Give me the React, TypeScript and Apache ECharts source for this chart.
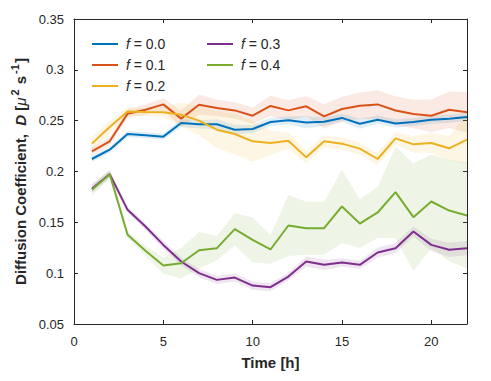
import React, { useEffect, useRef } from "react";
import * as echarts from "echarts";

const hours = [1, 2, 3, 4, 5, 6, 7, 8, 9, 10, 11, 12, 13, 14, 15, 16, 17, 18, 19, 20, 21, 22];
const seriesNames = ["f = 0.0", "f = 0.1", "f = 0.2", "f = 0.3", "f = 0.4"];
const seriesColors = ["#0072BD", "#D95319", "#EDB120", "#7E2F8E", "#77AC30"];

const dF00 = [0.2123, 0.2215, 0.2369, 0.2356, 0.2343, 0.2477, 0.2464, 0.2464, 0.2411, 0.2418, 0.2487, 0.2503, 0.2483, 0.249, 0.2527, 0.247, 0.251, 0.2473, 0.2487, 0.251, 0.252, 0.2536];
const dF01 = [0.2198, 0.2297, 0.2569, 0.2608, 0.266, 0.252, 0.2657, 0.2625, 0.2601, 0.2549, 0.2645, 0.2601, 0.2641, 0.2542, 0.2615, 0.2647, 0.266, 0.26, 0.2566, 0.2549, 0.2608, 0.2582];
const dF02 = [0.2274, 0.2438, 0.2591, 0.2585, 0.2582, 0.2559, 0.25, 0.2411, 0.2369, 0.2297, 0.2281, 0.2303, 0.2139, 0.2297, 0.2274, 0.2225, 0.2123, 0.2326, 0.2267, 0.2281, 0.2228, 0.2313];
const dF03 = [0.183, 0.1974, 0.1623, 0.1459, 0.1278, 0.1115, 0.1, 0.0934, 0.0957, 0.0878, 0.0862, 0.0967, 0.1114, 0.1082, 0.1105, 0.1082, 0.1203, 0.1246, 0.141, 0.1278, 0.123, 0.1246];
const dF04 = [0.182, 0.1974, 0.1377, 0.122, 0.1075, 0.1098, 0.1226, 0.1246, 0.1433, 0.1328, 0.1233, 0.1469, 0.1442, 0.1442, 0.1656, 0.1488, 0.1597, 0.1797, 0.1551, 0.1705, 0.1616, 0.1567];

const eF00 = [0.003, 0.003, 0.003, 0.003, 0.003, 0.004, 0.004, 0.005, 0.005, 0.004, 0.004, 0.004, 0.006, 0.004, 0.004, 0.005, 0.004, 0.004, 0.004, 0.004, 0.004, 0.004];
const eF01 = [0.004, 0.004, 0.004, 0.005, 0.006, 0.008, 0.01, 0.008, 0.008, 0.008, 0.01, 0.01, 0.01, 0.012, 0.012, 0.013, 0.014, 0.014, 0.014, 0.016, 0.018, 0.02];
const eF02 = [0.007, 0.006, 0.004, 0.004, 0.005, 0.012, 0.014, 0.018, 0.02, 0.02, 0.012, 0.008, 0.006, 0.006, 0.006, 0.006, 0.006, 0.006, 0.008, 0.01, 0.012, 0.024];
const eF03 = [0.004, 0.004, 0.003, 0.003, 0.004, 0.004, 0.004, 0.004, 0.004, 0.004, 0.004, 0.004, 0.005, 0.005, 0.004, 0.004, 0.005, 0.005, 0.005, 0.006, 0.007, 0.007];
const eF04 = [0.006, 0.004, 0.003, 0.005, 0.008, 0.015, 0.018, 0.012, 0.016, 0.022, 0.014, 0.03, 0.026, 0.026, 0.036, 0.024, 0.025, 0.045, 0.053, 0.046, 0.05, 0.052];

const xTickLabels = ["0", "5", "10", "15", "20"];
const yTickLabels = ["0.05", "0.1", "0.15", "0.2", "0.25", "0.3", "0.35"];

const FONT = "'Liberation Sans', Arial, Helvetica, sans-serif";
const INK = "#262626";

export default function App() {
  const ref = useRef<HTMLDivElement>(null);
  useEffect(() => {
    const chart = echarts.init(ref.current!, null, { renderer: "svg" });
    const values = [dF00, dF01, dF02, dF03, dF04];
    const errors = [eF00, eF01, eF02, eF03, eF04];

    const bands = values.map((vals, k) => ({
      type: "custom",
      silent: true,
      clip: true,
      data: hours.map((h, i) => [h, vals[i] - errors[k][i], vals[i] + errors[k][i]]),
      encode: { x: 0, y: [1, 2] },
      renderItem: (params: any, api: any) => {
        if (params.dataIndex !== 0) return null;
        const up = hours.map((h, i) => api.coord([h, vals[i] + errors[k][i]]));
        const lo = hours.map((h, i) => api.coord([h, vals[i] - errors[k][i]])).reverse();
        return {
          type: "polygon",
          shape: { points: up.concat(lo) },
          style: { fill: echarts.color.modifyAlpha(seriesColors[k], 0.12) },
        };
      },
    }));

    const lines = values.map((vals, k) => ({
      type: "line",
      name: seriesNames[k],
      data: hours.map((h, i) => [h, vals[i]]),
      symbol: "none",
      color: seriesColors[k],
      lineStyle: { width: 2, color: seriesColors[k] },
    }));

    const axisCommon = {
      axisLine: { show: true, onZero: false, lineStyle: { color: INK, width: 1 } },
      axisTick: { show: true, inside: true, length: 4, lineStyle: { color: INK } },
      splitLine: { show: false },
    };

    const legendText = {
      fontSize: 14,
      fontFamily: FONT,
      color: INK,
      padding: [0, 0, 0, 3],
      rich: {
        i: { fontStyle: "italic", fontSize: 14, fontFamily: FONT, color: INK },
        n: { fontSize: 14, fontFamily: FONT, color: INK },
      },
    };
    const legendFmt = (name: string) => `{i|f}{n|${name.slice(1)}}`;
    const legendCommon = {
      orient: "vertical",
      top: 37,
      padding: 0,
      icon: "rect",
      itemWidth: 26,
      itemHeight: 2,
      itemGap: 7,
      textStyle: legendText,
      formatter: legendFmt,
    };

    const option: any = {
      animation: false,
      textStyle: { fontFamily: FONT },
      grid: { left: 74, right: 24, top: 19, bottom: 57, containLabel: false },
      legend: [
        { ...legendCommon, data: seriesNames.slice(0, 3), left: 92 },
        { ...legendCommon, data: seriesNames.slice(3), left: 207 },
      ],
      xAxis: [
        {
          type: "value",
          min: 0,
          max: 22,
          interval: 5,
          position: "bottom",
          ...axisCommon,
          axisLabel: {
            color: INK,
            fontSize: 13,
            fontFamily: FONT,
            margin: 11,
            showMaxLabel: false,
            formatter: (v: number) => (xTickLabels.includes(String(v)) ? String(v) : ""),
          },
          name: "Time [h]",
          nameLocation: "middle",
          nameGap: 31,
          nameTextStyle: { fontWeight: "bold", fontSize: 15, color: INK, fontFamily: FONT },
        },
        {
          type: "value",
          min: 0,
          max: 22,
          interval: 5,
          position: "top",
          ...axisCommon,
          axisLabel: { show: false },
        },
      ],
      yAxis: [
        {
          type: "value",
          min: 0.05,
          max: 0.35,
          interval: 0.05,
          position: "left",
          ...axisCommon,
          axisLabel: {
            color: INK,
            fontSize: 13,
            fontFamily: FONT,
            margin: 10,
            formatter: (v: number) => {
              const s = String(+v.toFixed(2));
              return yTickLabels.includes(s) ? s : "";
            },
          },
          name: "{b|Diffusion Coefficient,  }{bi|D}{b| [}{mu|μ}{sup|2}{b| s}{sup|-1}{b|]}",
          nameLocation: "middle",
          nameRotate: 90,
          nameGap: 44,
          nameTextStyle: {
            color: INK,
            rich: {
              b: { fontWeight: "bold", fontSize: 15, fontFamily: FONT, color: INK, lineHeight: 18, verticalAlign: "bottom" },
              bi: { fontWeight: "bold", fontStyle: "italic", fontSize: 15, fontFamily: FONT, color: INK, lineHeight: 18, verticalAlign: "bottom" },
              mu: { fontStyle: "italic", fontSize: 15, fontFamily: FONT, color: INK, lineHeight: 18, verticalAlign: "bottom" },
              sup: { fontWeight: "bold", fontSize: 11, fontFamily: FONT, color: INK, lineHeight: 18, verticalAlign: "top", padding: [0, 1, 0, 2] },
            },
          },
        },
        {
          type: "value",
          min: 0.05,
          max: 0.35,
          interval: 0.05,
          position: "right",
          ...axisCommon,
          axisLabel: { show: false },
        },
      ],
      series: [...bands, ...lines],
    };
    chart.setOption(option);
    return () => chart.dispose();
  }, []);

  return (
    <div
      ref={ref}
      style={{ position: "fixed", left: 0, top: 0, width: 491, height: 381, background: "#fff" }}
    />
  );
}
